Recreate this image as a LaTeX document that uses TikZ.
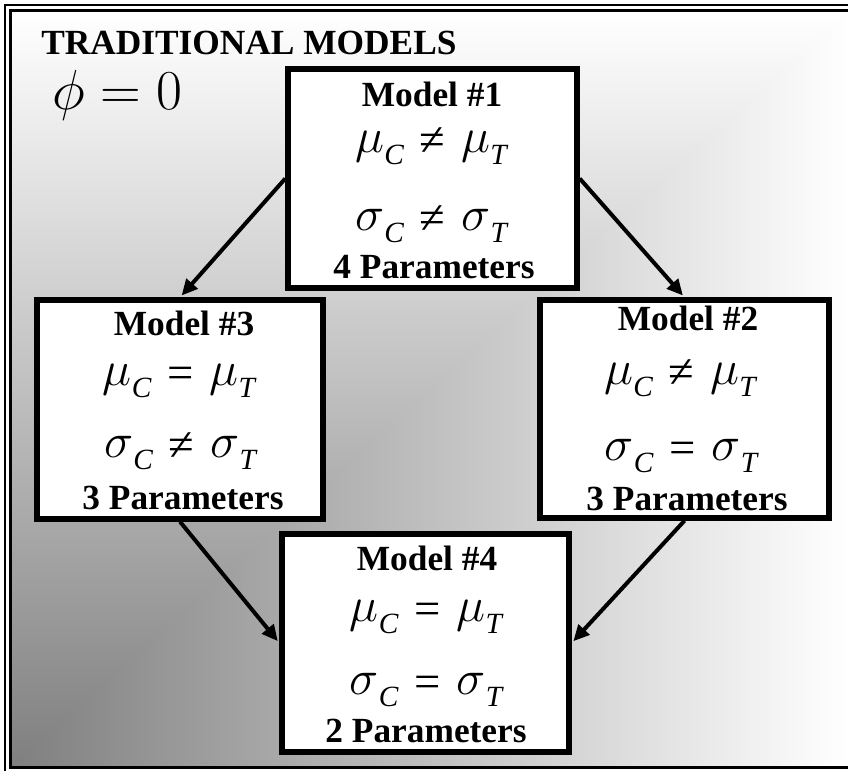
\documentclass[tikz,border=0pt]{standalone}
\usepackage{graphicx}
\usepackage{fontspec}
\setmainfont{Liberation Serif}
\usetikzlibrary{arrows.meta}
\definecolor{gdark}{gray}{0.5}
\definecolor{gmid}{gray}{0.77}
\newcommand\lblsz{\fontsize{26.5}{28}\selectfont\bfseries}
\newcommand\eqsz{\fontsize{32}{34}\selectfont}
\newcommand\gk[1]{\scalebox{1.48}{\fontsize{24.88}{26}\selectfont$#1$}}
\newcommand\sbs[1]{\raisebox{-9pt}{\fontsize{22}{23}\selectfont\itshape #1}}
\newcommand\myrel[1]{\hspace{12pt}\raisebox{-2.5pt}{\upshape\fontsize{35}{36}\selectfont #1}\hspace{12pt}}
\newcommand\mueq[1]{{\eqsz\itshape\gk{\mu}\sbs{C}\myrel{#1}\gk{\mu}\sbs{T}}}
\newcommand\sigeq[1]{{\eqsz\itshape\gk{\sigma}\sbs{C}\myrel{#1}\gk{\sigma}\sbs{T}}}
\begin{document}
\begin{tikzpicture}[x=0.75pt,y=-0.75pt,
  box/.style={draw=black, line width=4pt, fill=white, inner sep=0pt},
  lbl/.style={anchor=base, inner sep=0pt, font=\lblsz},
  eq/.style={anchor=base, inner sep=0pt},
  arr/.style={line width=3pt, -{Triangle[length=12pt,width=11pt]}, shorten >=1.8pt}]
\useasboundingbox (0,0) rectangle (848,770);
\fill[white] (0,0) rectangle (848,770);
% background: corner gradient (dark at bottom left)
\shade[left color=gdark, middle color=gmid, right color=white] (11.5,765.5) rectangle (848,12);
\shade[bottom color=gdark, middle color=gmid, top color=white] (11.5,765.5) -- (11.5,12) -- (848,12) -- cycle;
% frame
\draw[line width=1.5pt] (4.5,5) rectangle (870,790);
\draw[line width=2.25pt] (10.5,10.5) rectangle (870,767);
% title and phi
\node[anchor=base west, inner sep=0pt, font=\lblsz] (title) at (41,55) {TRADITIONAL MODELS};
\node[anchor=base west, inner sep=0pt] (phi) at (52,110) {\scalebox{1.7}{\fontsize{24.88}{26}\selectfont$\phi = 0$}};
% boxes
\node[box, minimum width=216.75pt, minimum height=164.25pt] (m1) at (432.5,178.5) {};
\node[box, minimum width=214.5pt, minimum height=164.25pt] (m3) at (180,409.5) {};
\node[box, minimum width=216.75pt, minimum height=163.5pt] (m2) at (684.5,409) {};
\node[box, minimum width=215.25pt, minimum height=163.5pt] (m4) at (425.5,643) {};
% arrows
\draw[arr] (m1.west) -- (m3.north);
\draw[arr] (m1.east) -- (m2.north);
\draw[arr] (m3.south) -- (m4.west);
\draw[arr] (m2.south) -- (m4.east);
% Model 1
\node[lbl] (t1) at (432,107) {Model \#1};
\node[eq] (e1a) at (431,152) {\mueq{≠}};
\node[eq] (e1b) at (431,230) {\sigeq{≠}};
\node[lbl] (p1) at (434,278) {4 Parameters};
% Model 3
\node[lbl] (t3) at (184,335) {Model \#3};
\node[eq] (e3a) at (179,385) {\mueq{=}};
\node[eq] (e3b) at (180,457) {\sigeq{≠}};
\node[lbl] (p3) at (183,509) {3 Parameters};
% Model 2
\node[lbl] (t2) at (688,330) {Model \#2};
\node[eq] (e2a) at (680,384) {\mueq{≠}};
\node[eq] (e2b) at (681,460) {\sigeq{=}};
\node[lbl] (p2) at (687,510) {3 Parameters};
% Model 4
\node[lbl] (t4) at (427,570) {Model \#4};
\node[eq] (e4a) at (426,621) {\mueq{=}};
\node[eq] (e4b) at (426,694) {\sigeq{=}};
\node[lbl] (p4) at (426,742) {2 Parameters};
\end{tikzpicture}
\end{document}
